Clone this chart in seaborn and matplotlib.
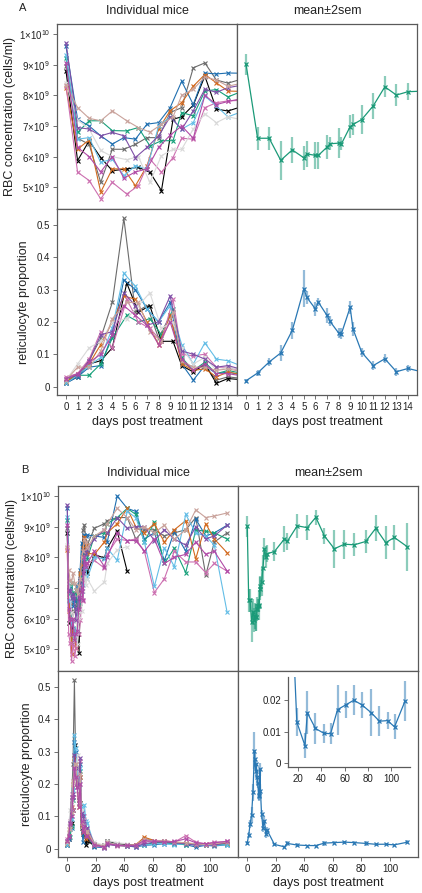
import numpy as np
import pandas as pd
import matplotlib
matplotlib.use("Agg")
import matplotlib.pyplot as plt
import seaborn as sns

# ---------------- data ----------------
# sampling days (cohort a measured on whole days, cohort b a few hours later on days 5-9)
days_a = [0, 1, 2, 3, 4, 5, 6, 7, 8, 9, 10, 11, 12, 13, 14,
          19, 26, 28, 35, 42, 48, 54, 61, 68, 75, 83, 90, 97, 103, 112]
days_b = [0, 1, 2, 3, 4, 5.25, 6.25, 7.25, 8.25, 9.25, 10, 11, 12, 13, 14,
          19, 26, 28, 35, 42, 48, 54, 61, 68, 75, 83, 90, 97, 103, 112]

mice = ["m1", "m2", "m3", "m4", "m5", "m6", "m7", "m8", "m9", "m10", "m11"]
mouse_colors = ["#6b6b6b", "#000000", "#1f6fb0", "#16a07a", "#d2691e", "#cc6fb0",
                "#63bde6", "#d9d9d9", "#7e4fa6", "#c9a29b", "#b04aa6"]
mouse_cohort = ["a", "b", "a", "b", "a", "b", "a", "b", "a", "b", "a"]

nan = float("nan")
# RBC concentration, units of 1e9 cells/ml
rbc_m1 = [8.95, 6.6, 6.4, 5.16, 6.24, 6.24, 6.4, 6.62, 6.62, 7.44, 7.6, 8.9, 9.06, 8.5, 8.4,
          8.95, 9.1, 9.2, 9.3, 9.3, 8.6, 8.9, 8.9, 8.7, 8.8, 8.9, 9.3, 7.42, 8.5, 8.8]
rbc_m2 = [8.79, 5.87, 6.52, 5.97, 5.54, 5.6, 5.65, 5.49, 4.89, 7.22, 7.3, 7.68, 8.63, 7.55, 7.49,
          8.09, 7.98, 8.3, 8.85, 7.54, nan, nan, nan, nan, nan, nan, nan, nan, nan, nan]
rbc_m3 = [9.6, 7.22, 7.0, 6.68, 6.41, 6.62, 6.57, 7.06, 7.11, 7.6, 8.46, 7.7, 8.73, 8.7, 8.73,
          8.7, 8.65, 8.5, 10.0, 9.6, 9.5, 8.6, 8.8, 7.9, 8.85, 8.2, 9.25, 8.7, 8.8, 9.05]
rbc_m4 = [9.22, 6.79, 7.17, 7.17, 6.85, 6.84, 6.95, 6.35, 6.52, 6.52, 7.44, 7.33, 8.14, 8.19, 7.95,
          8.7, 8.8, 9.1, 9.3, 9.6, 9.4, 8.5, 9.15, 7.8, 8.3, 7.5, 8.9, 8.85, 8.8, 8.6]
rbc_m5 = [8.25, 6.24, 6.55, 4.84, 5.6, 5.6, 5.05, 5.7, 6.9, 7.5, 7.76, 8.3, 8.68, 8.41, 8.14,
          8.1, 8.5, 8.8, 9.1, 9.6, 9.0, 8.8, 9.1, 8.5, 8.9, 9.2, 7.95, 9.1, 8.6, 8.15]
rbc_m6 = [8.3, 5.49, 5.22, 4.62, 5.16, 4.78, 5.05, 5.92, 5.49, 5.97, 6.6, 6.57, 7.6, 7.76, 7.82,
          7.9, 7.65, 8.1, 8.6, 8.55, 8.6, 8.2, 6.85, 7.3, 8.2, 7.85, 7.85, 7.5, 7.8, 7.55]
rbc_m7 = [9.33, 6.57, 6.62, 5.81, 5.92, 5.38, 5.7, 5.6, 7.0, 7.3, 6.9, 7.11, 7.98, 7.65, 7.3,
          8.0, 7.95, 8.3, 7.9, 9.5, 9.3, 8.5, 7.05, 8.3, 7.7, 9.4, 8.8, 8.7, 8.4, 6.2]
rbc_m8 = [8.41, 7.2, 6.9, 6.2, 6.0, 5.9, 6.0, 5.16, 6.03, 6.24, 6.24, 6.9, 7.4, 7.11, 7.3,
          6.9, 7.2, 7.8, 8.25, 8.35, nan, nan, nan, nan, nan, nan, nan, nan, nan, nan]
rbc_m9 = [9.71, 6.95, 6.9, 6.68, 6.79, 6.68, 5.97, 6.3, 6.68, 7.3, 6.89, 7.5, 8.2, 8.1, 8.25,
          8.6, 8.9, 8.8, 9.3, 8.95, 9.0, 9.0, 8.55, 8.9, 8.6, 8.4, 9.0, 8.6, 8.7, 9.05]
rbc_m10 = [8.35, 7.6, 7.25, 7.17, 7.49, 7.17, 6.95, 6.8, 7.05, 7.3, 8.0, 8.2, 8.6, 8.5, 8.3,
           8.7, 8.9, 9.1, 9.6, 9.3, 8.9, 9.0, 8.8, 9.05, 8.6, 8.9, 9.55, 9.3, 9.35, 9.45]
rbc_m11 = [9.05, 6.3, 6.0, 5.5, 6.0, 5.3, 5.5, 5.6, 6.3, 6.7, 7.0, 6.6, 8.0, 7.7, 7.8,
           8.2, 7.7, 8.0, 8.8, 8.55, 8.55, 8.2, 8.6, 7.8, 8.0, 8.1, 8.5, 8.1, 8.2, 7.55]

# reticulocyte proportion
ret_m1 = [0.015, 0.035, 0.08, 0.15, 0.26, 0.52, 0.23, 0.25, 0.15, 0.22, 0.08, 0.05, 0.065, 0.02, 0.03,
          0.01, 0.008, 0.025, 0.012, 0.012, 0.012, 0.03, 0.025, 0.02, 0.02, 0.015, 0.012, 0.01, 0.012, 0.015]
ret_m2 = [0.012, 0.03, 0.07, 0.08, 0.12, 0.32, 0.23, 0.25, 0.14, 0.14, 0.065, 0.045, 0.07, 0.01, 0.025,
          0.008, 0.01, 0.022, 0.015, 0.012, nan, nan, nan, nan, nan, nan, nan, nan, nan, nan]
ret_m3 = [0.01, 0.03, 0.06, 0.065, 0.16, 0.33, 0.3, 0.24, 0.2, 0.26, 0.07, 0.02, 0.065, 0.04, 0.045,
          0.005, 0.003, 0.015, 0.01, 0.008, 0.005, 0.01, 0.012, 0.015, 0.015, 0.012, 0.005, 0.01, 0.008, 0.012]
ret_m4 = [0.02, 0.035, 0.035, 0.07, 0.15, 0.22, 0.2, 0.21, 0.16, 0.24, 0.09, 0.05, 0.075, 0.04, 0.05,
          0.012, 0.005, 0.02, 0.01, 0.01, 0.008, 0.012, 0.018, 0.02, 0.015, 0.012, 0.015, 0.012, 0.01, 0.015]
ret_m5 = [0.015, 0.04, 0.07, 0.13, 0.2, 0.28, 0.27, 0.2, 0.13, 0.22, 0.07, 0.05, 0.055, 0.03, 0.045,
          0.012, 0.006, 0.018, 0.01, 0.008, 0.012, 0.035, 0.025, 0.022, 0.02, 0.018, 0.012, 0.015, 0.012, 0.018]
ret_m6 = [0.03, 0.04, 0.085, 0.17, 0.12, 0.27, 0.2, 0.18, 0.14, 0.27, 0.1, 0.095, 0.1, 0.06, 0.06,
          0.01, 0.003, 0.015, 0.008, 0.01, 0.008, 0.02, 0.025, 0.025, 0.02, 0.04, 0.02, 0.015, 0.02, 0.022]
ret_m7 = [0.01, 0.035, 0.065, 0.09, 0.18, 0.35, 0.31, 0.24, 0.2, 0.25, 0.13, 0.07, 0.135, 0.085, 0.08,
          0.01, 0.008, 0.02, 0.012, 0.008, 0.008, 0.01, 0.015, 0.015, 0.012, 0.015, 0.01, 0.01, 0.01, 0.012]
ret_m8 = [0.02, 0.07, 0.12, 0.14, 0.2, 0.21, 0.25, 0.29, 0.18, 0.2, 0.12, 0.07, 0.09, 0.05, 0.06,
          0.02, 0.01, 0.025, 0.018, 0.015, nan, nan, nan, nan, nan, nan, nan, nan, nan, nan]
ret_m9 = [0.025, 0.035, 0.08, 0.16, 0.17, 0.29, 0.25, 0.19, 0.2, 0.28, 0.11, 0.1, 0.085, 0.06, 0.065,
          0.015, 0.005, 0.012, 0.01, 0.008, 0.006, 0.015, 0.02, 0.022, 0.018, 0.015, 0.01, 0.012, 0.01, 0.02]
ret_m10 = [0.02, 0.06, 0.06, 0.11, 0.21, 0.26, 0.26, 0.17, 0.14, 0.23, 0.08, 0.06, 0.06, 0.05, 0.055,
           0.015, 0.008, 0.02, 0.012, 0.01, 0.012, 0.03, 0.022, 0.025, 0.02, 0.018, 0.015, 0.012, 0.015, 0.02]
ret_m11 = [0.025, 0.04, 0.075, 0.1, 0.16, 0.25, 0.22, 0.19, 0.13, 0.2, 0.085, 0.05, 0.07, 0.04, 0.04,
           0.012, 0.004, 0.016, 0.01, 0.01, 0.01, 0.025, 0.022, 0.02, 0.022, 0.03, 0.018, 0.015, 0.018, 0.022]

# means +- 2 sem
mean_days = [0, 1, 2, 3, 4, 5, 5.25, 6, 6.25, 7, 7.25, 8, 8.25, 9, 9.25, 10, 11, 12, 13, 14,
             19, 26, 28, 35, 42, 48, 54, 61, 68, 75, 83, 90, 97, 103, 112]
mean_rbc = [9.02, 6.60, 6.60, 5.88, 6.22, 5.96, 6.09, 6.04, 6.04, 6.31, 6.42, 6.44, 6.42, 6.98, 7.05,
            7.21, 7.66, 8.28, 8.01, 8.12,
            8.19, 8.60, 8.52, 9.03, 8.97, 9.31, 8.70, 8.28, 8.43, 8.41, 8.52, 8.95, 8.48, 8.65, 8.35]
err_rbc = [0.34, 0.38, 0.38, 0.64, 0.43, 0.40, 0.43, 0.43, 0.43, 0.38, 0.22, 0.49, 0.22, 0.38, 0.33,
           0.46, 0.43, 0.34, 0.35, 0.27,
           0.30, 0.42, 0.29, 0.40, 0.40, 0.25, 0.25, 0.62, 0.47, 0.38, 0.38, 0.43, 0.54, 0.40, 0.78]
mean_ret = [0.018, 0.042, 0.076, 0.104, 0.174, 0.302, 0.276, 0.240, 0.261, 0.220, 0.202, 0.166, 0.164,
            0.245, 0.178, 0.106, 0.065, 0.086, 0.046, 0.056,
            0.013, 0.0055, 0.016, 0.011, 0.0095, 0.0093, 0.017, 0.0185, 0.020, 0.0185, 0.016, 0.0133,
            0.0135, 0.0115, 0.0197]
err_ret = [0.006, 0.010, 0.013, 0.024, 0.027, 0.057, 0.021, 0.021, 0.013, 0.022, 0.016, 0.015, 0.018,
           0.021, 0.023, 0.014, 0.014, 0.014, 0.013, 0.010,
           0.0045, 0.004, 0.0068, 0.005, 0.003, 0.0033, 0.008, 0.0043, 0.0048, 0.0041, 0.0075, 0.0048,
           0.0028, 0.004, 0.0064]

rbc_ticks = [5, 6, 7, 8, 9, 10]
rbc_ticklabels = [r"$5{\times}10^{9}$", r"$6{\times}10^{9}$", r"$7{\times}10^{9}$",
                  r"$8{\times}10^{9}$", r"$9{\times}10^{9}$", r"$1{\times}10^{10}$"]
ret_ticks = [0, 0.1, 0.2, 0.3, 0.4, 0.5]
ret_ticklabels = ["0", "0.1", "0.2", "0.3", "0.4", "0.5"]
inset_yticks = [0, 0.01, 0.02]
inset_yticklabels = ["0", "0.01", "0.02"]
inset_xticks = [20, 40, 60, 80, 100]
days_ticks_a = list(range(0, 15))
days_ticks_b = [0, 20, 40, 60, 80, 100]

# ---------------- long table ----------------
rbc_all = [rbc_m1, rbc_m2, rbc_m3, rbc_m4, rbc_m5, rbc_m6, rbc_m7, rbc_m8, rbc_m9, rbc_m10, rbc_m11]
ret_all = [ret_m1, ret_m2, ret_m3, ret_m4, ret_m5, ret_m6, ret_m7, ret_m8, ret_m9, ret_m10, ret_m11]
rows = []
for m, coh, r, q in zip(mice, mouse_cohort, rbc_all, ret_all):
    dd = days_a if coh == "a" else days_b
    for d, v1, v2 in zip(dd, r, q):
        rows.append({"mouse": m, "day": d, "rbc": v1, "ret": v2})
df = pd.DataFrame(rows).dropna()
palette = dict(zip(mice, mouse_colors))
mean_df = pd.DataFrame({"day": mean_days, "rbc": mean_rbc, "err_rbc": err_rbc,
                        "ret": mean_ret, "err_ret": err_ret})

# ---------------- style ----------------
sns.set_style("white")
plt.rcParams["font.family"] = ["Liberation Sans", "DejaVu Sans"]
plt.rcParams["mathtext.fontset"] = "custom"
plt.rcParams["mathtext.rm"] = "Liberation Sans"
plt.rcParams["mathtext.it"] = "Liberation Sans:italic"
plt.rcParams["mathtext.bf"] = "Liberation Sans:bold"

W, H = 422, 893
fig = plt.figure(figsize=(W / 100, H / 100), dpi=100)

SPINE = "#5a5a5a"
TXT = "#222222"
RBC_MEAN = "#1b9a78"
RET_MEAN = "#2a78b4"


def px_axes(x0, y0, x1, y1):
    return fig.add_axes([x0 / W, 1 - y1 / H, (x1 - x0) / W, (y1 - y0) / H])


def style(ax, left_labels, bottom_labels):
    for s in ax.spines.values():
        s.set_color(SPINE)
        s.set_linewidth(0.9)
    ax.tick_params(axis="both", direction="out", length=3, width=0.6, color=SPINE,
                   labelsize=7, labelcolor=TXT, pad=2)
    ax.tick_params(axis="y", left=left_labels, labelleft=left_labels)
    ax.tick_params(axis="x", bottom=bottom_labels, labelbottom=bottom_labels)
    ax.set_xlabel("")
    ax.set_ylabel("")


def individual(ax, col):
    sns.lineplot(data=df, x="day", y=col, hue="mouse", hue_order=mice, palette=palette,
                 estimator=None, marker="x", markersize=3.2, markeredgewidth=0.8,
                 linewidth=0.8, legend=False, ax=ax)
    for ln in ax.get_lines():
        ln.set_markeredgecolor(ln.get_color())


def mean_panel(ax, col, ecol, color):
    lo = mean_df[col] - mean_df[ecol]
    hi = mean_df[col] + mean_df[ecol]
    ax.vlines(mean_df["day"], lo, hi, color=color, alpha=0.5, linewidth=1.6, zorder=2)
    sns.lineplot(data=mean_df, x="day", y=col, estimator=None, color=color, marker="x",
                 markersize=3.2, markeredgewidth=0.9, markeredgecolor=color,
                 linewidth=0.9, ax=ax, zorder=3)


sections = [
    dict(top=24, mid=209, bot=395, left=57, midx=237, right=417,
         xlim=(-0.78, 14.78), xticks=days_ticks_a, label="A", labelx=23, labely=8, titley=11,
         xlaby=422, rbclx=10, retlx=24),
    dict(top=486, mid=671, bot=857, left=58, midx=238, right=418,
         xlim=(-6.5, 119.6), xticks=days_ticks_b, label="B", labelx=25, labely=470, titley=473,
         xlaby=883, rbclx=12, retlx=27),
]

for sec in sections:
    ax_ri = px_axes(sec["left"], sec["top"], sec["midx"], sec["mid"])
    ax_rm = px_axes(sec["midx"], sec["top"], sec["right"], sec["mid"])
    ax_qi = px_axes(sec["left"], sec["mid"], sec["midx"], sec["bot"])
    ax_qm = px_axes(sec["midx"], sec["mid"], sec["right"], sec["bot"])

    individual(ax_ri, "rbc")
    individual(ax_qi, "ret")
    mean_panel(ax_rm, "rbc", "err_rbc", RBC_MEAN)
    mean_panel(ax_qm, "ret", "err_ret", RET_MEAN)

    for ax in (ax_ri, ax_rm):
        ax.set_ylim(4.29, 10.33)
        ax.set_yticks(rbc_ticks)
        ax.set_yticklabels(rbc_ticklabels)
    for ax in (ax_qi, ax_qm):
        ax.set_ylim(-0.026, 0.549)
        ax.set_yticks(ret_ticks)
        ax.set_yticklabels(ret_ticklabels)
    for ax in (ax_ri, ax_rm, ax_qi, ax_qm):
        ax.set_xlim(*sec["xlim"])
        ax.set_xticks(sec["xticks"])
        ax.set_xticklabels([str(t) for t in sec["xticks"]])

    style(ax_ri, True, False)
    style(ax_rm, False, False)
    style(ax_qi, True, True)
    style(ax_qm, False, True)

    ymid_top = 1 - (sec["top"] + sec["mid"]) / 2 / H
    ymid_bot = 1 - (sec["mid"] + sec["bot"]) / 2 / H
    fig.text(sec["rbclx"] / W, ymid_top, "RBC concentration (cells/ml)", rotation=90,
             ha="center", va="center", fontsize=9, color=TXT)
    fig.text(sec["retlx"] / W, ymid_bot, "reticulocyte proportion", rotation=90,
             ha="center", va="center", fontsize=9, color=TXT)
    fig.text((sec["left"] + sec["midx"]) / 2 / W, 1 - sec["titley"] / H, "Individual mice",
             ha="center", va="center", fontsize=9, color=TXT)
    fig.text((sec["midx"] + sec["right"]) / 2 / W, 1 - sec["titley"] / H, "mean\u00b12sem",
             ha="center", va="center", fontsize=9, color=TXT)
    fig.text(sec["labelx"] / W, 1 - sec["labely"] / H, sec["label"],
             ha="center", va="center", fontsize=8, color=TXT)
    for x0, x1 in ((sec["left"], sec["midx"]), (sec["midx"], sec["right"])):
        fig.text((x0 + x1) / 2 / W, 1 - sec["xlaby"] / H, "days post treatment",
                 ha="center", va="center", fontsize=9, color=TXT)

# inset in panel B (late reticulocyte means)
ax_in = px_axes(288, 677, 410, 767)
mean_panel(ax_in, "ret", "err_ret", RET_MEAN)
ax_in.set_xlim(11.4, 116.3)
ax_in.set_ylim(-0.0013, 0.0274)
ax_in.set_yticks(inset_yticks)
ax_in.set_yticklabels(inset_yticklabels)
ax_in.set_xticks(inset_xticks)
ax_in.set_xticklabels([str(t) for t in inset_xticks])
style(ax_in, True, True)
ax_in.spines["top"].set_visible(False)
ax_in.spines["right"].set_visible(False)
ax_in.patch.set_alpha(0)

fig.savefig("out.png", dpi=100)
